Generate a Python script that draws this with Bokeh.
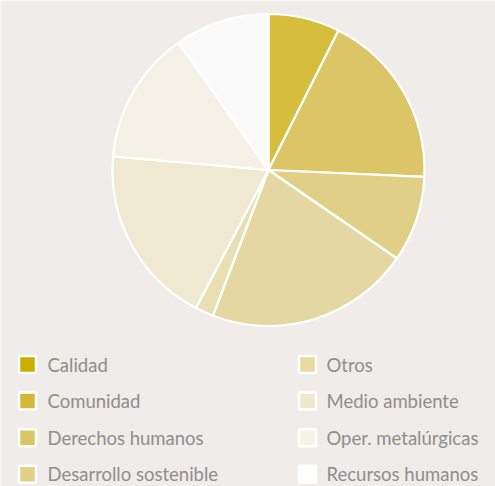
import numpy as np
from bokeh.plotting import figure
from bokeh.models import Range1d, ColumnDataSource
from bokeh.core.properties import value
from bokeh.embed import file_html
from bokeh.resources import INLINE

categories = ["Calidad", "Comunidad", "Derechos humanos", "Desarrollo sostenible",
              "Otros", "Medio ambiente", "Oper. metalúrgicas", "Recursos humanos"]
values = [7.4, 18.3, 8.9, 21.2, 1.9, 18.7, 13.8, 9.8]
colors = ["#CDAE00", "#D5B83A", "#DBC565", "#E2D088",
          "#E8DAA0", "#F0E8CA", "#F7F3E4", "#FFFFFF"]

BG = "#EFECE9"
W, H = 495, 486

p = figure(width=W, height=H, output_backend="svg", toolbar_location=None,
           x_range=Range1d(0, W), y_range=Range1d(0, H), min_border=0,
           background_fill_color=BG, border_fill_color=BG, outline_line_color=None)
p.axis.visible = False
p.grid.visible = False

vals = np.array(values, dtype=float)
frac = vals / vals.sum()
cum = np.concatenate([[0], np.cumsum(frac)])
start = np.pi / 2 - cum[:-1] * 2 * np.pi
end = np.pi / 2 - cum[1:] * 2 * np.pi

cx, cy, r = 268, H - 169.5, 156
src = ColumnDataSource(dict(start=start, end=end, color=colors))
p.wedge(x=cx, y=cy, radius=r, start_angle="start", end_angle="end", direction="clock",
        fill_color="color", fill_alpha=0.75, line_color="white", line_width=2.2, source=src)

# legend
n = len(categories)
rows = 4
idx = np.arange(n)
col = idx // rows
row = idx % rows
sq_x = np.where(col == 0, 27, 307)
sq_y = H - (364 + row * 36.6)
txt_x = np.where(col == 0, 47, 326)
lsrc = ColumnDataSource(dict(x=sq_x, y=sq_y, tx=txt_x, color=colors, label=categories))
p.rect(x="x", y="y", width=17, height=17, fill_color="color", line_color="white",
       line_width=2.5, source=lsrc)
p.text(x="tx", y="y", text="label", text_font=value("Lato"), text_font_size="18.5px",
       text_color="#8E8E8E", text_baseline="middle", text_align="left", source=lsrc)

html = file_html(p, INLINE)
html = html.replace("<body>", '<body style="margin:0;background-color:%s">' % BG, 1)
open("out.html", "w").write(html)
